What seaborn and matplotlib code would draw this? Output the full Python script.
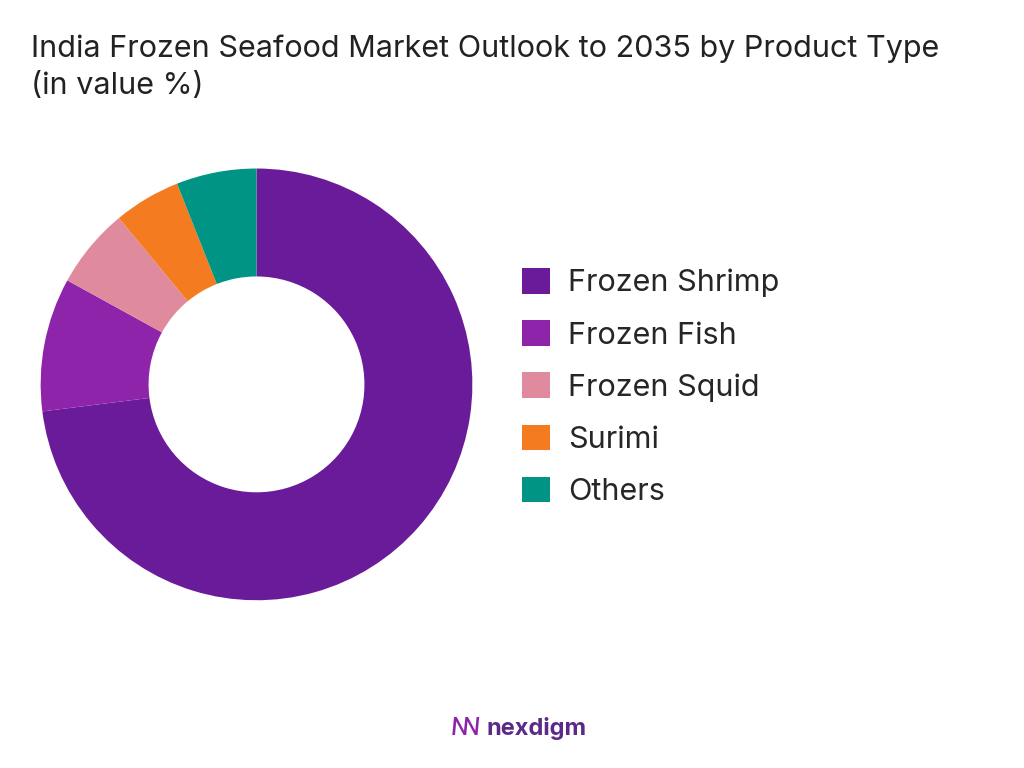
import matplotlib
matplotlib.use("Agg")
import matplotlib.pyplot as plt
import seaborn as sns

sns.set_theme(style="white")
plt.rcParams['font.family'] = ['Inter', 'DejaVu Sans']

categories = ["Frozen Shrimp", "Frozen Fish", "Frozen Squid", "Surimi", "Others"]
values = [73, 10, 6, 5, 6]
colors = ["#6A1B9A", "#8E24AA", "#E08A9E", "#F47B20", "#009485"]

fig = plt.figure(figsize=(10.24, 7.68), dpi=100)
ax = fig.add_axes([-0.013, 0.148, 0.527, 0.703])
wedges, _ = ax.pie(values, colors=colors, startangle=90, counterclock=False,
                   wedgeprops=dict(width=0.5, edgecolor="none"))
ax.set_aspect("equal")
fig.legend(wedges, categories, loc="center left", bbox_to_anchor=(0.483, 0.496),
           frameon=False, fontsize=22, handlelength=0.9, handleheight=0.9,
           labelspacing=0.75, handletextpad=0.6)
fig.text(0.03, 0.955, "India Frozen Seafood Market Outlook to 2035 by Product Type\n(in value %)",
         fontsize=22, color="#222222", va="top", linespacing=1.4)
fig.text(0.475, 0.043, "nexdigm", fontsize=17, color="#5B2A86", weight="bold")
fig.text(0.44, 0.043, "ꟿ", fontsize=18, color="#8E24AA")
fig.savefig("out.png", dpi=100, facecolor="white")
